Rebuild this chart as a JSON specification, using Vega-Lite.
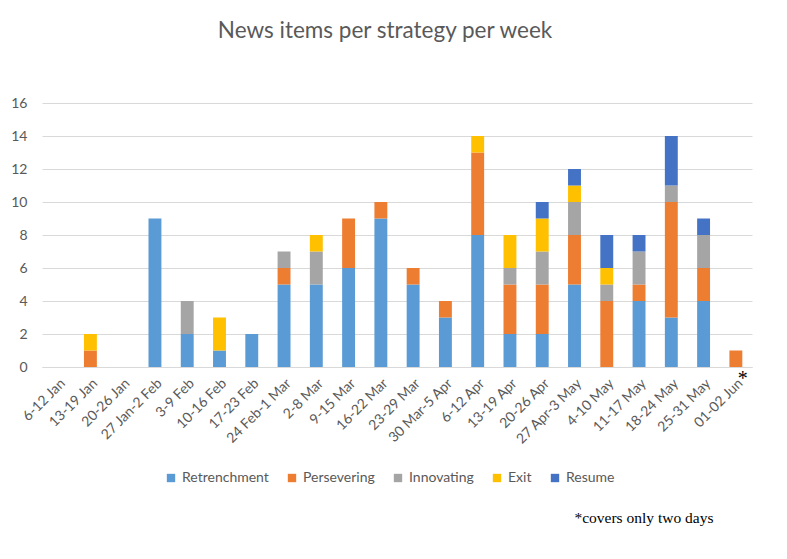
{
  "$schema": "https://vega.github.io/schema/vega-lite/v6.json",
  "width": 710,
  "height": 264,
  "autosize": {"type": "none"},
  "padding": {"left": 42, "top": 103, "right": 35, "bottom": 192},
  "background": "white",
  "config": {
    "font": "Lato",
    "view": {"stroke": null},
    "axis": {"labelColor": "#595959", "labelFont": "Lato", "gridColor": "#D9D9D9", "domainColor": "#D9D9D9"}
  },
  "title": {
    "text": "News items per strategy per week",
    "font": "Lato",
    "fontSize": 22.5,
    "fontWeight": "normal",
    "color": "#595959",
    "anchor": "middle",
    "dx": -12,
    "offset": 54
  },
  "datasets": {
    "counts": [
      {"week": "13-19 Jan", "strategy": "Persevering", "count": 1},
      {"week": "13-19 Jan", "strategy": "Exit", "count": 1},
      {"week": "27 Jan-2 Feb", "strategy": "Retrenchment", "count": 9},
      {"week": "3-9 Feb", "strategy": "Retrenchment", "count": 2},
      {"week": "3-9 Feb", "strategy": "Innovating", "count": 2},
      {"week": "10-16 Feb", "strategy": "Retrenchment", "count": 1},
      {"week": "10-16 Feb", "strategy": "Exit", "count": 2},
      {"week": "17-23 Feb", "strategy": "Retrenchment", "count": 2},
      {"week": "24 Feb-1 Mar", "strategy": "Retrenchment", "count": 5},
      {"week": "24 Feb-1 Mar", "strategy": "Persevering", "count": 1},
      {"week": "24 Feb-1 Mar", "strategy": "Innovating", "count": 1},
      {"week": "2-8 Mar", "strategy": "Retrenchment", "count": 5},
      {"week": "2-8 Mar", "strategy": "Innovating", "count": 2},
      {"week": "2-8 Mar", "strategy": "Exit", "count": 1},
      {"week": "9-15 Mar", "strategy": "Retrenchment", "count": 6},
      {"week": "9-15 Mar", "strategy": "Persevering", "count": 3},
      {"week": "16-22 Mar", "strategy": "Retrenchment", "count": 9},
      {"week": "16-22 Mar", "strategy": "Persevering", "count": 1},
      {"week": "23-29 Mar", "strategy": "Retrenchment", "count": 5},
      {"week": "23-29 Mar", "strategy": "Persevering", "count": 1},
      {"week": "30 Mar-5 Apr", "strategy": "Retrenchment", "count": 3},
      {"week": "30 Mar-5 Apr", "strategy": "Persevering", "count": 1},
      {"week": "6-12 Apr", "strategy": "Retrenchment", "count": 8},
      {"week": "6-12 Apr", "strategy": "Persevering", "count": 5},
      {"week": "6-12 Apr", "strategy": "Exit", "count": 1},
      {"week": "13-19 Apr", "strategy": "Retrenchment", "count": 2},
      {"week": "13-19 Apr", "strategy": "Persevering", "count": 3},
      {"week": "13-19 Apr", "strategy": "Innovating", "count": 1},
      {"week": "13-19 Apr", "strategy": "Exit", "count": 2},
      {"week": "20-26 Apr", "strategy": "Retrenchment", "count": 2},
      {"week": "20-26 Apr", "strategy": "Persevering", "count": 3},
      {"week": "20-26 Apr", "strategy": "Innovating", "count": 2},
      {"week": "20-26 Apr", "strategy": "Exit", "count": 2},
      {"week": "20-26 Apr", "strategy": "Resume", "count": 1},
      {"week": "27 Apr-3 May", "strategy": "Retrenchment", "count": 5},
      {"week": "27 Apr-3 May", "strategy": "Persevering", "count": 3},
      {"week": "27 Apr-3 May", "strategy": "Innovating", "count": 2},
      {"week": "27 Apr-3 May", "strategy": "Exit", "count": 1},
      {"week": "27 Apr-3 May", "strategy": "Resume", "count": 1},
      {"week": "4-10 May", "strategy": "Persevering", "count": 4},
      {"week": "4-10 May", "strategy": "Innovating", "count": 1},
      {"week": "4-10 May", "strategy": "Exit", "count": 1},
      {"week": "4-10 May", "strategy": "Resume", "count": 2},
      {"week": "11-17 May", "strategy": "Retrenchment", "count": 4},
      {"week": "11-17 May", "strategy": "Persevering", "count": 1},
      {"week": "11-17 May", "strategy": "Innovating", "count": 2},
      {"week": "11-17 May", "strategy": "Resume", "count": 1},
      {"week": "18-24 May", "strategy": "Retrenchment", "count": 3},
      {"week": "18-24 May", "strategy": "Persevering", "count": 7},
      {"week": "18-24 May", "strategy": "Innovating", "count": 1},
      {"week": "18-24 May", "strategy": "Resume", "count": 3},
      {"week": "25-31 May", "strategy": "Retrenchment", "count": 4},
      {"week": "25-31 May", "strategy": "Persevering", "count": 2},
      {"week": "25-31 May", "strategy": "Innovating", "count": 2},
      {"week": "25-31 May", "strategy": "Resume", "count": 1},
      {"week": "01-02 Jun", "strategy": "Persevering", "count": 1}
    ],
    "notes": [
      {"week": "01-02 Jun", "note": "*"}
    ]
  },
  "layer": [
    {
      "data": {"name": "counts"},
      "transform": [
        {"calculate": "indexof(['Retrenchment','Persevering','Innovating','Exit','Resume'], datum.strategy)", "as": "rank"}
      ],
      "mark": {"type": "bar"},
      "encoding": {
        "x": {
          "field": "week",
          "type": "nominal",
          "scale": {
            "domain": ["6-12 Jan", "13-19 Jan", "20-26 Jan", "27 Jan-2 Feb", "3-9 Feb", "10-16 Feb", "17-23 Feb", "24 Feb-1 Mar", "2-8 Mar", "9-15 Mar", "16-22 Mar", "23-29 Mar", "30 Mar-5 Apr", "6-12 Apr", "13-19 Apr", "20-26 Apr", "27 Apr-3 May", "4-10 May", "11-17 May", "18-24 May", "25-31 May", "01-02 Jun"],
            "paddingInner": 0.6,
            "paddingOuter": 0.3
          },
          "axis": {
            "labelAngle": -45,
            "labelFontSize": 14,
            "labelPadding": 9,
            "ticks": false,
            "domainColor": "#D9D9D9",
            "title": "*covers only two days",
            "titleFont": "Liberation Serif",
            "titleFontSize": 15.5,
            "titleFontWeight": "normal",
            "titleColor": "black",
            "titleAnchor": "end",
            "titleAlign": "right",
            "titleBaseline": "alphabetic",
            "titleX": 671,
            "titleY": 155
          }
        },
        "y": {
          "field": "count",
          "type": "quantitative",
          "stack": "zero",
          "scale": {"domain": [0, 16]},
          "axis": {
            "title": null,
            "values": [0, 2, 4, 6, 8, 10, 12, 14, 16],
            "labelFontSize": 14,
            "labelPadding": 15,
            "domain": false,
            "ticks": false,
            "grid": true
          }
        },
        "order": {"field": "rank", "type": "quantitative"},
        "color": {
          "field": "strategy",
          "type": "nominal",
          "scale": {
            "domain": ["Retrenchment", "Persevering", "Innovating", "Exit", "Resume"],
            "range": ["#5B9BD5", "#ED7D31", "#A5A5A5", "#FFC000", "#4472C4"]
          },
          "legend": {
            "title": null,
            "orient": "none",
            "legendX": 122,
            "legendY": 368,
            "direction": "horizontal",
            "symbolType": "square",
            "symbolSize": 70,
            "symbolStrokeWidth": 0,
            "labelFontSize": 14,
            "labelColor": "#595959",
            "labelFont": "Lato",
            "columnPadding": 16
          }
        }
      }
    },
    {
      "data": {"name": "notes"},
      "mark": {"type": "text", "fontSize": 20, "font": "Liberation Serif", "color": "black", "dx": 7, "align": "center", "baseline": "middle"},
      "encoding": {
        "x": {"field": "week", "type": "nominal"},
        "y": {
          "datum": -0.75,
          "axis": {
            "title": null,
            "values": [0, 2, 4, 6, 8, 10, 12, 14, 16],
            "labelFontSize": 14,
            "labelPadding": 15,
            "domain": false,
            "ticks": false,
            "grid": true
          }
        },
        "text": {"field": "note"}
      }
    }
  ]
}
